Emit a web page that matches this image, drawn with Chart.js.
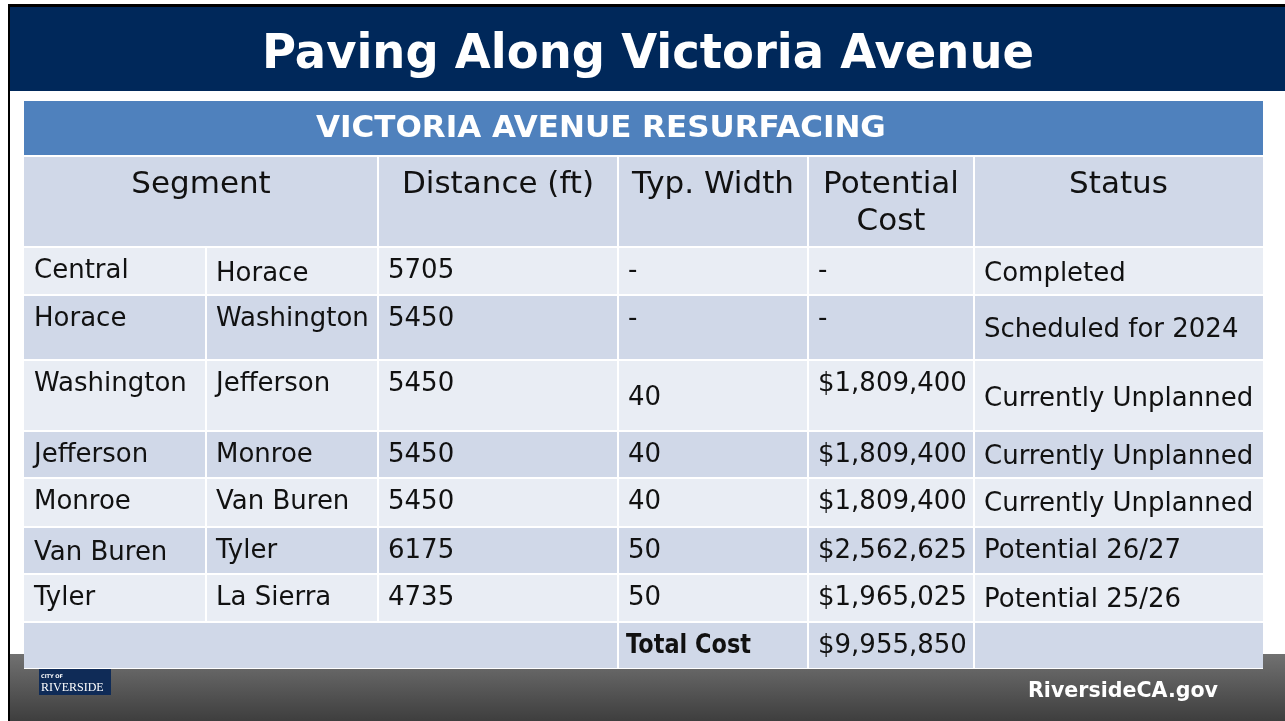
<!DOCTYPE html>
<html>
<head>
<meta charset="utf-8">
<title>Paving Along Victoria Avenue</title>
<script src="https://cdn.jsdelivr.net/npm/chart.js@4.4.1/dist/chart.umd.min.js"></script>
<style>
  html, body { margin: 0; padding: 0; background: #fff; overflow: hidden; }
  canvas { display: block; }
</style>
</head>
<body>
<canvas id="slide" width="1285" height="721"></canvas>
<script>
// Table content
const slideTitle = 'Paving Along Victoria Avenue';
const tableTitle = 'VICTORIA AVENUE RESURFACING';
const headers = ['Segment', 'Distance (ft)', 'Typ. Width', 'Potential\nCost', 'Status'];
const fromStreets = ['Central', 'Horace', 'Washington', 'Jefferson', 'Monroe', 'Van Buren', 'Tyler'];
const toStreets = ['Horace', 'Washington', 'Jefferson', 'Monroe', 'Van Buren', 'Tyler', 'La Sierra'];
const distances = [5705, 5450, 5450, 5450, 5450, 6175, 4735];
const typWidths = [null, null, 40, 40, 40, 50, 50];
const costs = [null, null, 1809400, 1809400, 1809400, 2562625, 1965025];
const statuses = ['Completed', 'Scheduled for 2024', 'Currently Unplanned', 'Currently Unplanned',
  'Currently Unplanned', 'Potential 26/27', 'Potential 25/26'];
const totalLabel = 'Total Cost';
const totalCost = 9955850;
const footerText = 'RiversideCA.gov';

// Layout (slide pixels)
const colEdges = [24, 206, 378, 618, 808, 974, 1263];
const rowEdges = [101, 156, 247, 295, 360, 431, 478, 527, 574, 622, 668];
// small baseline shifts of single cells, key "row,col"
const nudges = { '0,1': 3, '0,5': 3, '1,5': 11, '2,3': 14, '2,5': 15, '3,5': 2, '4,5': 2, '5,0': 2, '6,5': 2 };

const COLORS = {
  navy: '#00285a',
  blue: '#4f81bd',
  dark: '#d0d8e8',
  light: '#e9edf4',
  text: '#111111'
};
const FONT = "'DejaVu Sans', sans-serif";

const money = v => '$' + v.toLocaleString('en-US');

const bodyRows = fromStreets.map((f, i) => [
  f,
  toStreets[i],
  String(distances[i]),
  typWidths[i] == null ? '-' : String(typWidths[i]),
  costs[i] == null ? '-' : money(costs[i]),
  statuses[i]
]);

const slidePlugin = {
  id: 'slideTable',
  beforeDraw(chart) {
    const { ctx, scales: { x, y } } = chart;
    const px = v => x.getPixelForValue(v);
    const py = v => y.getPixelForValue(v);
    const rect = (x0, y0, x1, y1, fill) => {
      ctx.fillStyle = fill;
      ctx.fillRect(px(x0), py(y0), px(x1) - px(x0), py(y1) - py(y0));
    };
    const text = (str, tx, ty, font, color, align, maxW) => {
      ctx.font = font;
      ctx.fillStyle = color;
      ctx.textAlign = align || 'left';
      ctx.textBaseline = 'alphabetic';
      if (maxW) ctx.fillText(str, px(tx), py(ty), maxW);
      else ctx.fillText(str, px(tx), py(ty));
    };

    ctx.save();
    rect(0, 0, 1285, 721, '#ffffff');

    // title band and frame
    rect(10, 7, 1285, 91, COLORS.navy);
    rect(8, 4, 1285, 7, '#000000');
    rect(8, 4, 10, 721, '#000000');

    // footer gradient
    const g = ctx.createLinearGradient(0, py(654), 0, py(721));
    g.addColorStop(0, '#717171');
    g.addColorStop(1, '#3e3e3e');
    ctx.fillStyle = g;
    ctx.fillRect(px(10), py(654), px(1285) - px(10), py(721) - py(654));

    // city logo
    rect(44, 660, 92, 674, '#e8c34a');
    rect(39, 668, 111, 695, '#0f2b57');
    text('CITY OF', 41, 678, "bold 5px " + FONT, '#ffffff');
    text('RIVERSIDE', 41, 691, "12px 'Liberation Serif', serif", '#ffffff', 'left', 68);

    text(slideTitle, 648, 68, 'bold 48px ' + FONT, '#ffffff', 'center', 772);

    const L = colEdges[0], R = colEdges[colEdges.length - 1];
    // white backing so the cell gaps stay white over the footer
    rect(L, rowEdges[0], R, rowEdges[rowEdges.length - 1] + 1, '#ffffff');

    // table title bar
    rect(L, rowEdges[0], R, rowEdges[1] - 1, COLORS.blue);
    text(tableTitle, 316, 137, 'bold 31px ' + FONT, '#ffffff', 'left', 588);

    // header row
    const hTop = rowEdges[1] + 1, hBot = rowEdges[2] - 1;
    const headerSpans = [[0, 2], [2, 3], [3, 4], [4, 5], [5, 6]];
    headerSpans.forEach(([a, b], k) => {
      const x0 = colEdges[a] + (a ? 1 : 0), x1 = colEdges[b] - (b < 6 ? 1 : 0);
      rect(x0, hTop, x1, hBot, COLORS.dark);
      headers[k].split('\n').forEach((line, li) => {
        text(line, (colEdges[a] + colEdges[b]) / 2, hTop + 36 + li * 37, '31px ' + FONT, COLORS.text, 'center');
      });
    });

    // body rows
    bodyRows.forEach((row, r) => {
      const top = rowEdges[r + 2] + 1, bot = rowEdges[r + 3] - 1;
      const fill = r % 2 === 0 ? COLORS.light : COLORS.dark;
      row.forEach((cell, c) => {
        const x0 = colEdges[c] + (c ? 1 : 0), x1 = colEdges[c + 1] - (c < 5 ? 1 : 0);
        rect(x0, top, x1, bot, fill);
        const shift = nudges[r + ',' + c] || 0;
        text(cell, colEdges[c] + 10, top + 30 + shift, '26px ' + FONT, COLORS.text, 'left', colEdges[c + 1] - colEdges[c] - 12);
      });
    });

    // total row
    const tTop = rowEdges[9] + 1, tBot = rowEdges[10];
    rect(colEdges[0], tTop, colEdges[3] - 1, tBot, COLORS.dark);
    rect(colEdges[3] + 1, tTop, colEdges[4] - 1, tBot, COLORS.dark);
    rect(colEdges[4] + 1, tTop, colEdges[5] - 1, tBot, COLORS.dark);
    rect(colEdges[5] + 1, tTop, colEdges[6], tBot, COLORS.dark);
    text(totalLabel, colEdges[3] + 8, tTop + 30, 'bold 26px ' + FONT, COLORS.text, 'left', 125);
    text(money(totalCost), colEdges[4] + 10, tTop + 30, '26px ' + FONT, COLORS.text, 'left', 150);

    text(footerText, 1123, 697, 'bold 21px ' + FONT, '#ffffff', 'center', 190);
    ctx.restore();
  }
};

new Chart(document.getElementById('slide'), {
  type: 'scatter',
  data: { datasets: [] },
  options: {
    responsive: false,
    animation: false,
    devicePixelRatio: 1,
    events: [],
    layout: { padding: 0 },
    plugins: { legend: { display: false }, tooltip: { enabled: false } },
    scales: {
      x: { type: 'linear', min: 0, max: 1285, display: false },
      y: { type: 'linear', min: 0, max: 721, reverse: true, display: false }
    }
  },
  plugins: [slidePlugin]
});
</script>
</body>
</html>
